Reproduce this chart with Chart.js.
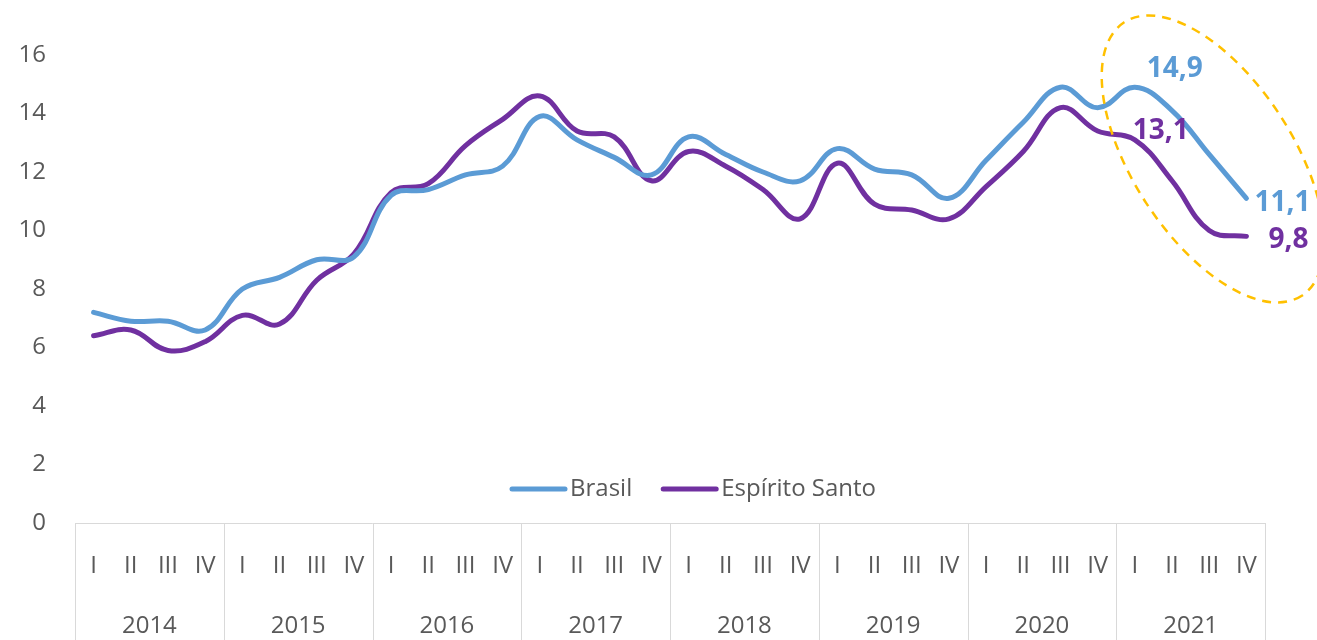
<!DOCTYPE html>
<html>
<head>
<meta charset="utf-8">
<script src="https://cdn.jsdelivr.net/npm/chart.js@4.4.1/dist/chart.umd.min.js"></script>
<style>
  html, body { margin: 0; padding: 0; background: #ffffff; }
  #wrap { width: 1317px; height: 640px; }
</style>
</head>
<body>
<div id="wrap"><canvas id="chart" width="1317" height="640"></canvas></div>
<script>
// Data
const years = ['2014', '2015', '2016', '2017', '2018', '2019', '2020', '2021'];
const quarters = ['I', 'II', 'III', 'IV'];
const brasil = [
    7.2, 6.9, 6.9, 6.6,
    8.0, 8.4, 9.0, 9.1,
    11.2, 11.4, 11.9, 12.2,
    13.9, 13.1, 12.5, 11.9,
    13.2, 12.6, 12.0, 11.7,
    12.8, 12.1, 11.9, 11.1,
    12.4, 13.7, 14.9, 14.2,
    14.9, 14.1, 12.6, 11.1
];
const espiritoSanto = [
    6.4, 6.6, 5.9, 6.2,
    7.1, 6.8, 8.3, 9.2,
    11.3, 11.6, 12.9, 13.8,
    14.6, 13.4, 13.2, 11.7,
    12.7, 12.2, 11.4, 10.4,
    12.3, 10.9, 10.7, 10.4,
    11.5, 12.7, 14.2, 13.4,
    13.1, 11.7, 10.0, 9.8
];
const yTicks = [0, 2, 4, 6, 8, 10, 12, 14, 16];

// point labels: [datasetIndex, pointIndex, text, dx, dy]
const pointLabels = [
    [0, 28, '14,9', 40, -18],
    [1, 28, '13,1', 26, -9],
    [0, 31, '11,1', 36, 5],
    [1, 31, '9,8', 42, 4]
];

const labels = [];
years.forEach(() => quarters.forEach(q => labels.push(q)));

const FONT = "'Open Sans', 'Noto Sans', sans-serif";
const TEXT = '#595959';
const AXIS = '#d9d9d9';

const extrasPlugin = {
    id: 'extras',
    afterDraw(chart) {
        const ctx = chart.ctx;
        const x = chart.scales.x;
        const area = chart.chartArea;

        // year group separators and labels
        ctx.save();
        ctx.strokeStyle = AXIS;
        ctx.lineWidth = 1;
        const n = labels.length;
        const edge = i => {
            if (i === 0) return area.left;
            if (i === n) return area.right;
            return (x.getPixelForTick(i - 1) + x.getPixelForTick(i)) / 2;
        };
        for (let i = 0; i <= n; i += quarters.length) {
            const px = Math.round(edge(i)) + 0.5;
            ctx.beginPath();
            ctx.moveTo(px, area.bottom);
            ctx.lineTo(px, chart.height);
            ctx.stroke();
        }
        ctx.fillStyle = TEXT;
        ctx.font = '24px ' + FONT;
        ctx.textAlign = 'center';
        ctx.textBaseline = 'middle';
        years.forEach((y, k) => {
            const cx = (edge(k * 4) + edge(k * 4 + 4)) / 2;
            ctx.fillText(y, cx, area.bottom + 103);
        });
        ctx.restore();

        // legend inside the plot
        ctx.save();
        ctx.font = '24px ' + FONT;
        ctx.textBaseline = 'middle';
        ctx.textAlign = 'left';
        ctx.lineCap = 'round';
        const ly = 489;
        let lx = 512;
        chart.data.datasets.forEach(ds => {
            ctx.strokeStyle = ds.borderColor;
            ctx.lineWidth = 5;
            ctx.beginPath();
            ctx.moveTo(lx, ly);
            ctx.lineTo(lx + 53, ly);
            ctx.stroke();
            ctx.fillStyle = TEXT;
            ctx.fillText(ds.label, lx + 58, ly);
            lx += 58 + ctx.measureText(ds.label).width + 31;
        });
        ctx.restore();

        // highlighted point labels
        ctx.save();
        ctx.font = 'bold 28px ' + FONT;
        ctx.textAlign = 'center';
        ctx.textBaseline = 'middle';
        pointLabels.forEach(([d, i, t, dx, dy]) => {
            const p = chart.getDatasetMeta(d).data[i];
            ctx.fillStyle = chart.data.datasets[d].borderColor;
            ctx.fillText(t, p.x + dx, p.y + dy);
        });
        ctx.restore();

        // dashed ellipse around the last quarters
        ctx.save();
        ctx.strokeStyle = '#FFC000';
        ctx.lineWidth = 2.5;
        ctx.setLineDash([9, 7]);
        ctx.beginPath();
        ctx.ellipse(1213, 159, 163, 80, 57 * Math.PI / 180, 0, Math.PI * 2);
        ctx.stroke();
        ctx.restore();
    }
};

new Chart(document.getElementById('chart'), {
    type: 'line',
    data: {
        labels: labels,
        datasets: [
            {
                label: 'Brasil',
                data: brasil,
                borderColor: '#5B9BD5',
                borderWidth: 5,
                borderCapStyle: 'round',
                tension: 0.4,
                pointRadius: 0,
                fill: false
            },
            {
                label: 'Espírito Santo',
                data: espiritoSanto,
                borderColor: '#7030A0',
                borderWidth: 5,
                borderCapStyle: 'round',
                tension: 0.4,
                pointRadius: 0,
                fill: false
            }
        ]
    },
    options: {
        responsive: false,
        animation: false,
        devicePixelRatio: 1,
        layout: { padding: { top: 55, right: 52, left: 0, bottom: 0 } },
        plugins: {
            legend: { display: false },
            tooltip: { enabled: false }
        },
        scales: {
            x: {
                offset: true,
                grid: { display: false },
                border: { display: true, color: AXIS, width: 1 },
                ticks: {
                    color: TEXT,
                    font: { family: FONT, size: 24 },
                    padding: 21,
                    maxRotation: 0,
                    autoSkip: false
                },
                afterFit(scale) { scale.height = 117; }
            },
            y: {
                min: 0,
                max: 16,
                grid: { display: false },
                border: { display: false },
                afterBuildTicks(scale) {
                    scale.ticks = yTicks.map(v => ({ value: v }));
                },
                ticks: {
                    color: TEXT,
                    font: { family: FONT, size: 24 },
                    padding: 21
                },
                afterFit(scale) { scale.width = 75; }
            }
        }
    },
    plugins: [extrasPlugin]
});
</script>
</body>
</html>
